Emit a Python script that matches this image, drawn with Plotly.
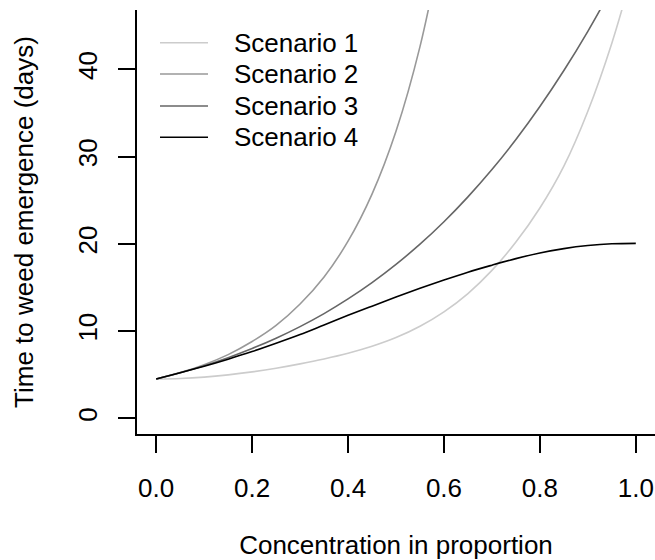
import plotly.graph_objects as go

# Concentration grid (proportion) shared by all scenarios
concentration = [0.00, 0.05, 0.10, 0.15, 0.20, 0.25, 0.30, 0.35, 0.40, 0.45, 0.50,
                 0.55, 0.60, 0.65, 0.70, 0.75, 0.80, 0.85, 0.90, 0.95, 1.00]

# Time to weed emergence (days) for each scenario
scenario_1 = [4.5, 4.56, 4.72, 4.98, 5.32, 5.74, 6.24, 6.8, 7.45, 8.25, 9.25,
              10.55, 12.2, 14.3, 16.95, 20.2, 24.1, 28.9, 35.2, 43.0, 52.5]
scenario_2 = [4.5, 5.25, 6.15, 7.3, 8.8, 10.65, 13.1, 16.2, 20.3, 25.7, 32.9,
              42.6, 55.7]
scenario_3 = [4.5, 5.21, 6.03, 6.95, 8.0, 9.18, 10.51, 12.0, 13.68, 15.55, 17.64,
              19.96, 22.53, 25.38, 28.51, 31.95, 35.73, 39.86, 44.36, 49.25]
scenario_4 = [4.5, 5.22, 5.97, 6.78, 7.65, 8.6, 9.6, 10.7, 11.8, 12.85, 13.9,
              14.9, 15.85, 16.75, 17.55, 18.3, 18.95, 19.45, 19.8, 20.0, 20.05]

series_names = ["Scenario 1", "Scenario 2", "Scenario 3", "Scenario 4"]
series_values = [scenario_1, scenario_2, scenario_3, scenario_4]
series_colors = ["#cccccc", "#999999", "#666666", "#000000"]

x_ticks = [0.0, 0.2, 0.4, 0.6, 0.8, 1.0]
x_tick_labels = ["0.0", "0.2", "0.4", "0.6", "0.8", "1.0"]
y_ticks = [0, 10, 20, 30, 40]
y_tick_labels = ["0", "10", "20", "30", "40"]

FONT = "Liberation Sans, Arial, Helvetica, sans-serif"
W, H = 655, 560
M_L, M_R, M_T, M_B = 137, 0, 10, 126

fig = go.Figure()
for name, vals, col in zip(series_names, series_values, series_colors):
    fig.add_trace(go.Scatter(
        x=concentration[:len(vals)], y=vals, name=name, mode="lines",
        line=dict(color=col, width=1.6, shape="spline", smoothing=1.0),
        showlegend=False,
    ))

# Legend drawn in paper space: short line sample followed by the label
plot_w = W - M_L - M_R
plot_h = H - M_T - M_B
def px_x(p):
    return (p - M_L) / plot_w
def px_y(p):
    return (H - M_B - p) / plot_h

legend_rows = [42.7, 74.0, 106.0, 137.3]
for name, col, row in zip(series_names, series_colors, legend_rows):
    fig.add_shape(type="line", xref="paper", yref="paper",
                  x0=px_x(160), x1=px_x(208), y0=px_y(row), y1=px_y(row),
                  line=dict(color=col, width=1.6))
    fig.add_annotation(xref="paper", yref="paper", x=px_x(232), y=px_y(row),
                       text=name, showarrow=False, xanchor="left", yanchor="middle",
                       font=dict(family=FONT, size=26, color="black"))

axis_common = dict(
    showline=True, linecolor="black", linewidth=1.6,
    ticks="outside", ticklen=17, tickwidth=1.6, tickcolor="black",
    showgrid=False, zeroline=False,
    tickfont=dict(family=FONT, size=26, color="black"),
)

fig.update_xaxes(
    range=[-0.04, 1.04], tickvals=x_ticks, ticktext=x_tick_labels,
    title=dict(text="Concentration in proportion", standoff=41,
               font=dict(family=FONT, size=26, color="black")),
    ticklabelstandoff=13,
    **axis_common,
)
fig.update_yaxes(
    range=[-1.8, 46.8], tickvals=y_ticks, ticktext=y_tick_labels,
    tickangle=-90,
    title=dict(text="Time to weed emergence (days)", standoff=32,
               font=dict(family=FONT, size=26, color="black")),
    ticklabelstandoff=11,
    **axis_common,
)

fig.update_layout(
    width=W, height=H,
    margin=dict(l=M_L, r=M_R, t=M_T, b=M_B, pad=0, autoexpand=False),
    plot_bgcolor="white", paper_bgcolor="white",
    font=dict(family=FONT, size=26, color="black"),
)

fig.write_html("out.html")
